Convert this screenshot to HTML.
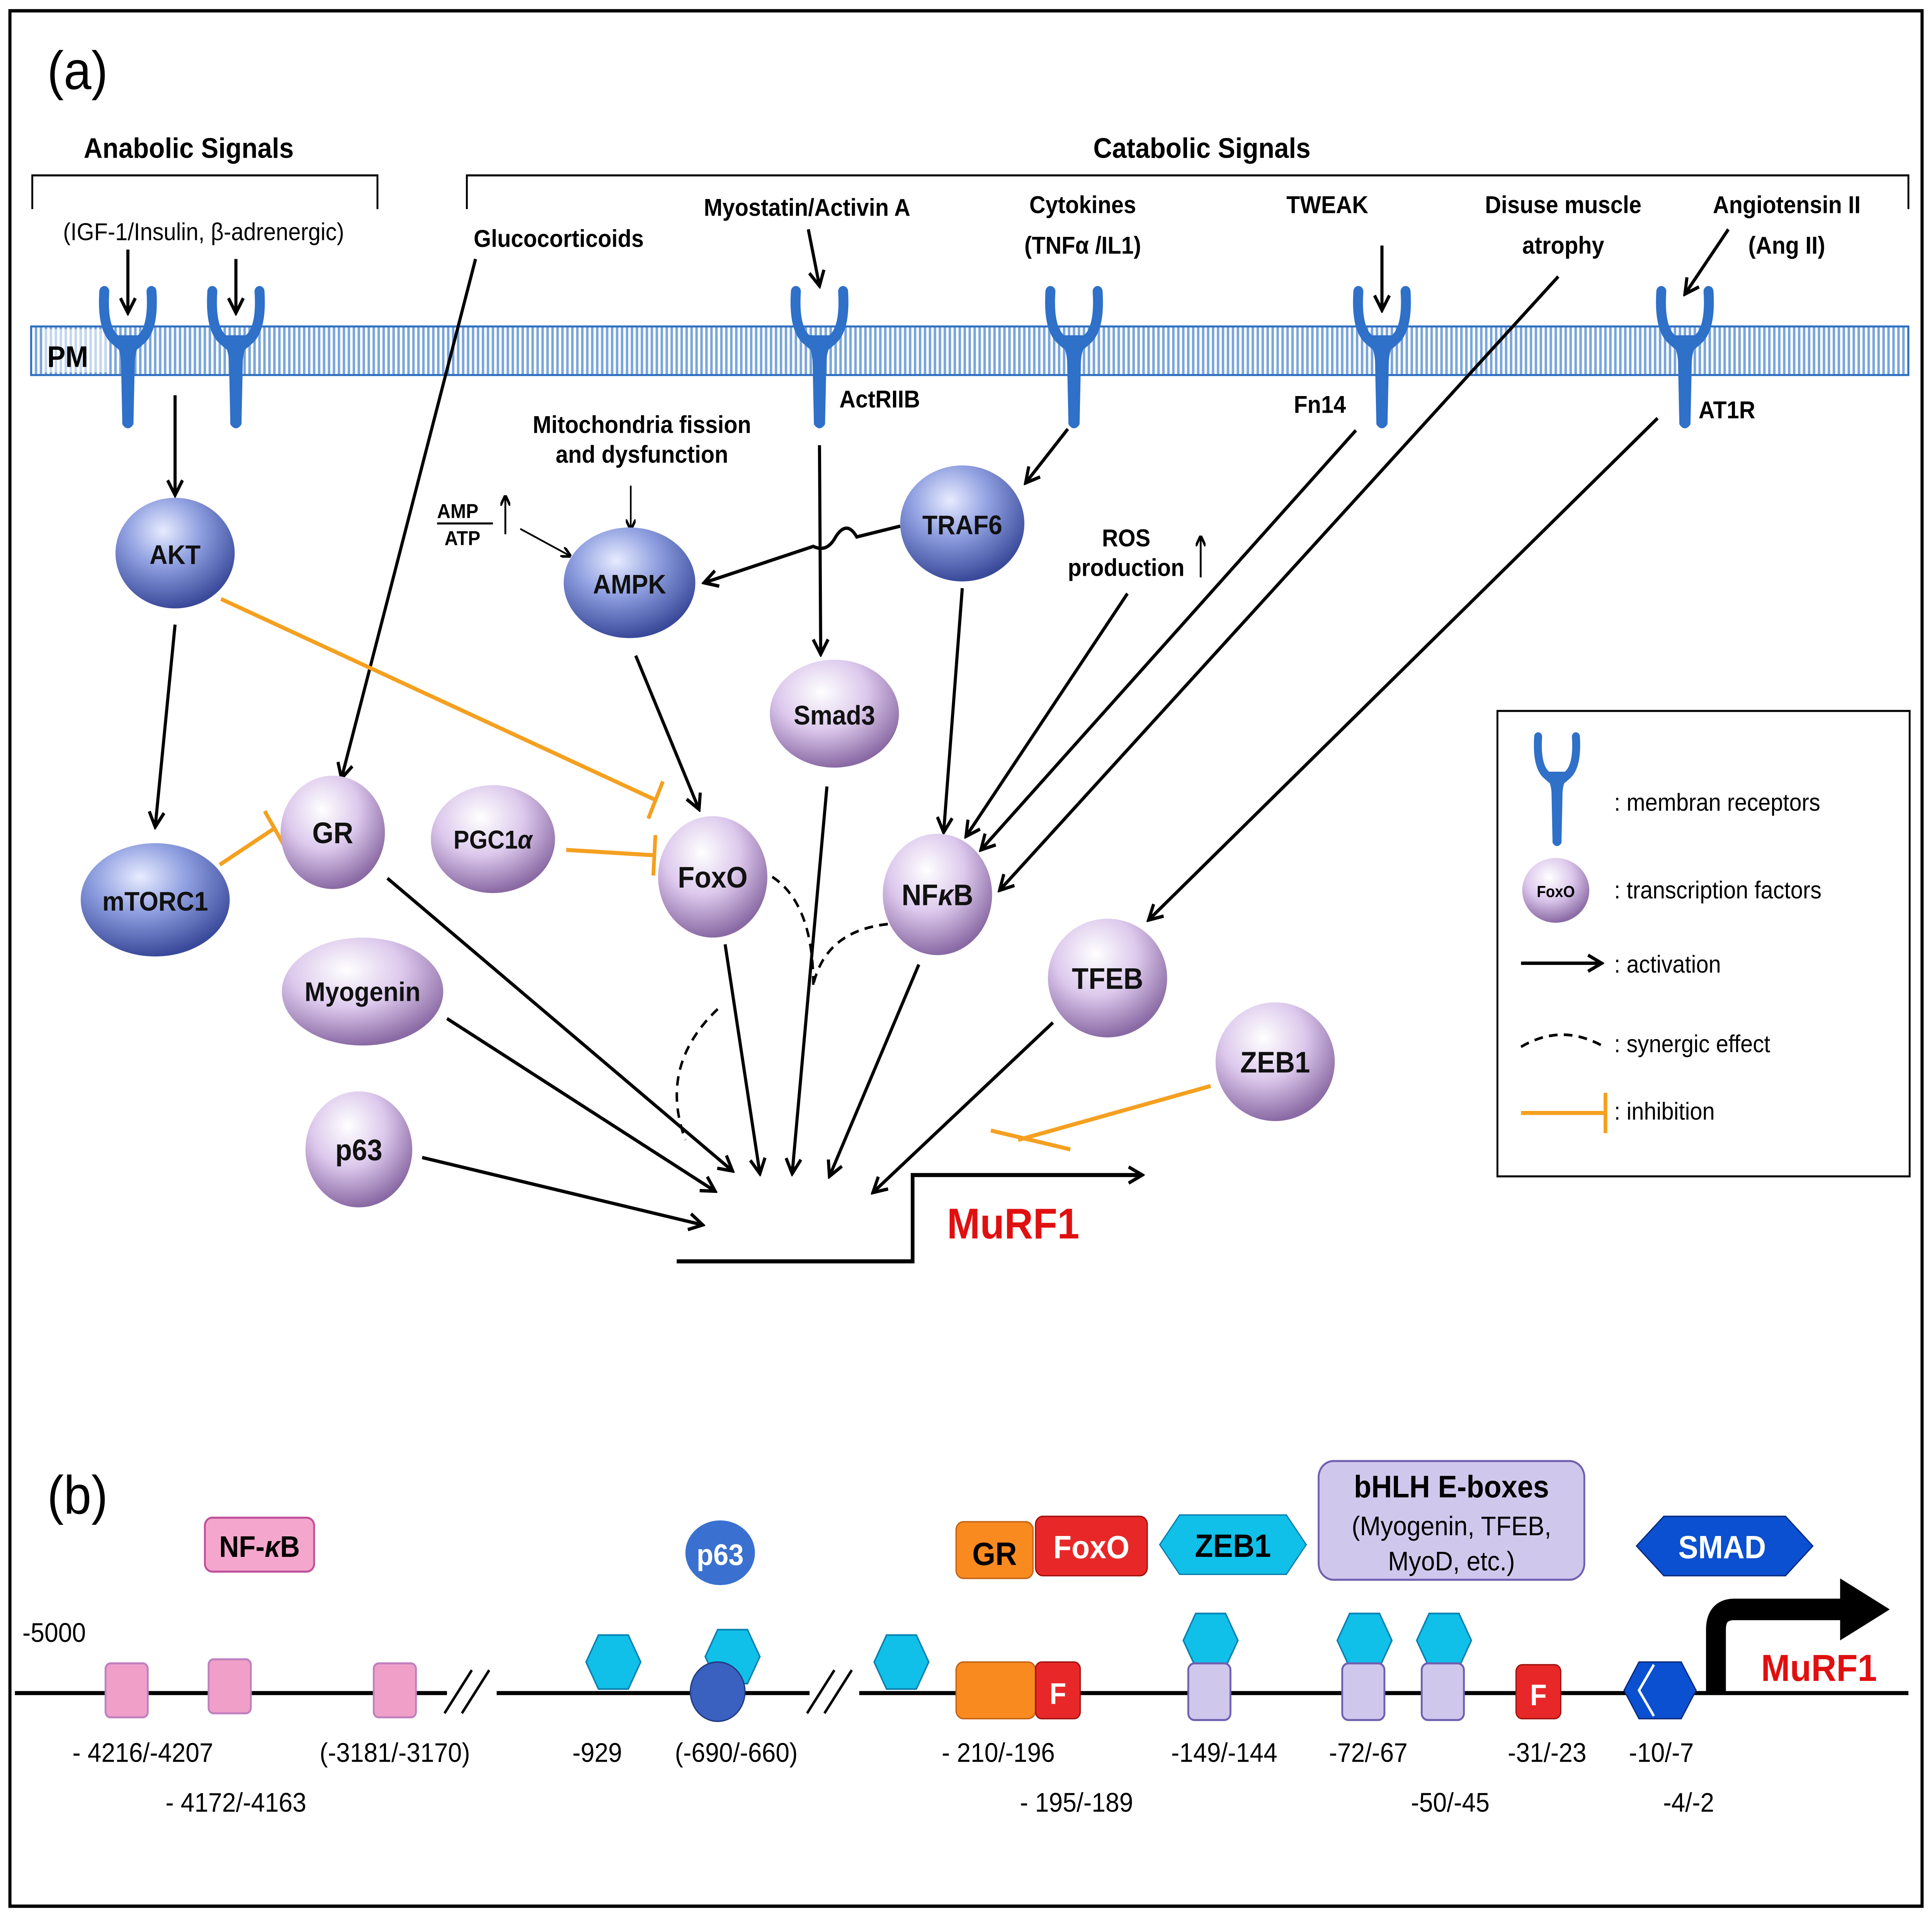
<!DOCTYPE html>
<html><head><meta charset="utf-8">
<style>
html,body{margin:0;padding:0;background:#fff;overflow:hidden;}
svg{display:block;width:100vw;height:100vh;}
text{font-family:"Liberation Sans",sans-serif;}
</style></head><body>
<svg viewBox="0 0 1556 1421" preserveAspectRatio="none" xmlns="http://www.w3.org/2000/svg">
<defs>
<radialGradient id="gb" cx="40%" cy="30%" r="70%">
<stop offset="0" stop-color="#e8ecff"/><stop offset="0.45" stop-color="#8f9fe0"/><stop offset="1" stop-color="#3a4a9a"/></radialGradient>
<radialGradient id="gp" cx="40%" cy="30%" r="70%">
<stop offset="0" stop-color="#ffffff"/><stop offset="0.5" stop-color="#dcc8ec"/><stop offset="1" stop-color="#8a6aa4"/></radialGradient>
<pattern id="stripe" width="4" height="10" patternUnits="userSpaceOnUse">
<rect width="4" height="10" fill="#ffffff"/><rect width="2" height="10" fill="#7aa6dc"/></pattern>
<marker id="ar" markerWidth="8" markerHeight="8" refX="7" refY="4" orient="auto" markerUnits="userSpaceOnUse" viewBox="0 0 8 8">
<path d="M0,0 L8,4 L0,8" fill="none" stroke="#000" stroke-width="2"/></marker>
<marker id="arb" markerWidth="14" markerHeight="14" refX="12" refY="7" orient="auto" markerUnits="userSpaceOnUse">
<path d="M1,1 L12,7 L1,13" fill="none" stroke="#000" stroke-width="2.5"/></marker>
<marker id="inh" markerWidth="4" markerHeight="30" refX="2" refY="15" orient="auto" markerUnits="userSpaceOnUse">
<line x1="2" y1="0" x2="2" y2="30" stroke="#f5a020" stroke-width="3"/></marker>
<g id="rec">
<path d="M-19,-40 Q-21,-12 -10,-4 Q-3,2 0,2 Q3,2 10,-4 Q21,-12 19,-40" fill="none" stroke="#2f70c8" stroke-width="8" stroke-linecap="round"/>
<path d="M-11,-6 Q-4,2 -4,14 L-3,58 Q0,62 3,58 L4,14 Q4,2 11,-6 Z" fill="#2f70c8" stroke="#2f70c8" stroke-width="3" stroke-linejoin="round"/>
</g>
</defs>
<rect x="0" y="0" width="1556" height="1421" fill="#fff"/>
<rect x="8" y="8" width="1540" height="1405" fill="none" stroke="#000" stroke-width="2.5"/>

<text x="38" y="66" font-size="40">(a)</text>
<text x="38" y="1122" font-size="40">(b)</text>

<text x="152" y="117" font-size="21" font-weight="bold" text-anchor="middle">Anabolic Signals</text>
<path d="M26,155 V130 H304 V155" fill="none" stroke="#000" stroke-width="1.5"/>
<text x="164" y="178" font-size="18" text-anchor="middle">(IGF-1/Insulin, β-adrenergic)</text>
<text x="968" y="117" font-size="21" font-weight="bold" text-anchor="middle">Catabolic Signals</text>
<path d="M376,155 V130 H1537 V155" fill="none" stroke="#000" stroke-width="1.5"/>
<g font-size="18" font-weight="bold" text-anchor="middle">
<text x="450" y="183">Glucocorticoids</text>
<text x="650" y="160">Myostatin/Activin A</text>
<text x="872" y="158">Cytokines</text><text x="872" y="188">(TNFα /IL1)</text>
<text x="1069" y="158">TWEAK</text>
<text x="1259" y="158">Disuse muscle</text><text x="1259" y="188">atrophy</text>
<text x="1439" y="158">Angiotensin II</text><text x="1439" y="188">(Ang II)</text>
</g>

<rect x="25" y="242" width="1512" height="36" fill="url(#stripe)" stroke="#2f6fc0" stroke-width="1.5"/>
<rect x="36" y="244" width="50" height="32" fill="#fff" opacity="0.55"/>
<text x="38" y="272" font-size="22" font-weight="bold">PM</text>
<use href="#rec" x="103" y="256"/>
<use href="#rec" x="190" y="256"/>
<use href="#rec" x="660" y="256"/>
<use href="#rec" x="865" y="256"/>
<use href="#rec" x="1113" y="256"/>
<use href="#rec" x="1357" y="256"/>
<g font-size="18" font-weight="bold">
<text x="676" y="302">ActRIIB</text>
<text x="1042" y="306">Fn14</text>
<text x="1368" y="310">AT1R</text>
<text x="517" y="321" text-anchor="middle">Mitochondria fission</text>
<text x="517" y="343" text-anchor="middle">and dysfunction</text>
<text x="907" y="405" text-anchor="middle">ROS</text>
<text x="907" y="427" text-anchor="middle">production</text>
<text x="352" y="384" font-size="15">AMP</text>
<text x="358" y="404" font-size="15">ATP</text>
</g>
<line x1="352" y1="388" x2="397" y2="388" stroke="#000" stroke-width="1.5"/>
<line x1="407" y1="396" x2="407" y2="368" stroke="#000" stroke-width="1.5" marker-end="url(#ar)"/>
<line x1="967" y1="428" x2="967" y2="398" stroke="#000" stroke-width="1.5" marker-end="url(#ar)"/>

<g stroke="#000" stroke-width="2.5" fill="none" marker-end="url(#arb)">
<line x1="103" y1="185" x2="103" y2="232"/>
<line x1="190" y1="192" x2="190" y2="232"/>
<line x1="651" y1="170" x2="660" y2="212"/>
<line x1="1113" y1="182" x2="1113" y2="230"/>
<line x1="1392" y1="170" x2="1357" y2="218"/>
<line x1="141" y1="293" x2="141" y2="367"/>
<line x1="141" y1="463" x2="125" y2="613"/>
<line x1="383" y1="192" x2="275" y2="577"/>
<line x1="660" y1="330" x2="661" y2="485"/>
<line x1="860" y1="318" x2="826" y2="358"/>
<path d="M725,390 L690,398 Q682,385 673,398 Q666,410 655,405 L567,432"/>
<line x1="512" y1="486" x2="563" y2="600"/>
<line x1="775" y1="436" x2="760" y2="617"/>
<line x1="908" y1="440" x2="778" y2="620"/>
<line x1="1092" y1="319" x2="790" y2="630"/>
<line x1="1255" y1="205" x2="805" y2="660"/>
<line x1="1335" y1="310" x2="925" y2="682"/>
<line x1="312" y1="651" x2="590" y2="868"/>
<line x1="360" y1="755" x2="576" y2="883"/>
<line x1="340" y1="858" x2="566" y2="908"/>
<line x1="584" y1="700" x2="612" y2="870"/>
<line x1="666" y1="583" x2="638" y2="870"/>
<line x1="740" y1="715" x2="668" y2="872"/>
<line x1="848" y1="758" x2="703" y2="884"/>
</g>
<line x1="419" y1="392" x2="459" y2="412" stroke="#000" stroke-width="1.3" marker-end="url(#ar)"/>
<line x1="508" y1="360" x2="508" y2="392" stroke="#000" stroke-width="1.3" marker-end="url(#ar)"/>

<path d="M545,935 H735 V871 H920" fill="none" stroke="#000" stroke-width="3" marker-end="url(#arb)"/>
<text x="816" y="918" font-size="32" font-weight="bold" fill="#e01010" text-anchor="middle">MuRF1</text>

<g stroke="#000" stroke-width="2" fill="none" stroke-dasharray="7,5">
<path d="M622,650 Q655,670 655,730"/>
<path d="M715,685 Q665,690 655,730"/>
<path d="M578,748 Q530,790 552,845"/>
</g>

<g stroke="#f5a020" stroke-width="3" fill="none" marker-end="url(#inh)">
<line x1="178" y1="444" x2="528" y2="593"/>
<line x1="177" y1="641" x2="221" y2="614"/>
<line x1="456" y1="630" x2="527" y2="634"/>
</g>
<line x1="975" y1="805" x2="820" y2="845" stroke="#f5a020" stroke-width="3"/>
<line x1="798" y1="838" x2="862" y2="852" stroke="#f5a020" stroke-width="3"/>

<g font-size="22" font-weight="bold" text-anchor="middle" fill="#111">
<ellipse cx="141" cy="410" rx="48" ry="41" fill="url(#gb)"/><text x="141" y="418" font-size="20">AKT</text>
<ellipse cx="125" cy="667" rx="60" ry="42" fill="url(#gb)"/><text x="125" y="675" font-size="20">mTORC1</text>
<ellipse cx="507" cy="432" rx="53" ry="41" fill="url(#gb)"/><text x="507" y="440" font-size="20">AMPK</text>
<ellipse cx="775" cy="388" rx="50" ry="43" fill="url(#gb)"/><text x="775" y="396" font-size="20">TRAF6</text>
<ellipse cx="268" cy="617" rx="42" ry="42" fill="url(#gp)"/><text x="268" y="625">GR</text>
<ellipse cx="672" cy="529" rx="52" ry="40" fill="url(#gp)"/><text x="672" y="537" font-size="20">Smad3</text>
<ellipse cx="397" cy="622" rx="50" ry="40" fill="url(#gp)"/><text x="397" y="629" font-size="19">PGC1<tspan font-style="italic">α</tspan></text>
<ellipse cx="574" cy="650" rx="44" ry="45" fill="url(#gp)"/><text x="574" y="658">FoxO</text>
<ellipse cx="755" cy="663" rx="44" ry="45" fill="url(#gp)"/><text x="755" y="671">NF<tspan font-style="italic">κ</tspan>B</text>
<ellipse cx="292" cy="735" rx="65" ry="40" fill="url(#gp)"/><text x="292" y="742" font-size="20">Myogenin</text>
<ellipse cx="289" cy="852" rx="43" ry="43" fill="url(#gp)"/><text x="289" y="860">p63</text>
<ellipse cx="892" cy="725" rx="48" ry="44" fill="url(#gp)"/><text x="892" y="733">TFEB</text>
<ellipse cx="1027" cy="787" rx="48" ry="44" fill="url(#gp)"/><text x="1027" y="795">ZEB1</text>
</g>

<rect x="1206" y="527" width="332" height="345" fill="#fff" stroke="#000" stroke-width="1.5"/>
<use href="#rec" transform="translate(1254,578) scale(0.8)"/>
<g font-size="18">
<text x="1300" y="601">: membran receptors</text>
<text x="1300" y="666">: transcription factors</text>
<text x="1300" y="721">: activation</text>
<text x="1300" y="780">: synergic effect</text>
<text x="1300" y="830">: inhibition</text>
</g>
<ellipse cx="1253" cy="660" rx="27" ry="24" fill="url(#gp)"/>
<text x="1253" y="665" font-size="12" font-weight="bold" text-anchor="middle">FoxO</text>
<line x1="1225" y1="714" x2="1290" y2="714" stroke="#000" stroke-width="2.5" marker-end="url(#arb)"/>
<path d="M1225,776 Q1258,758 1292,776" fill="none" stroke="#000" stroke-width="2" stroke-dasharray="7,5"/>
<line x1="1225" y1="825" x2="1293" y2="825" stroke="#f5a020" stroke-width="3" marker-end="url(#inh)"/>

<!-- Part b -->
<line x1="12" y1="1255" x2="1537" y2="1255" stroke="#000" stroke-width="3"/>
<rect x="360" y="1236" width="40" height="40" fill="#fff"/>
<rect x="652" y="1236" width="40" height="40" fill="#fff"/>
<g stroke="#000" stroke-width="2"><line x1="358" y1="1270" x2="380" y2="1238"/><line x1="372" y1="1270" x2="394" y2="1238"/>
<line x1="650" y1="1270" x2="672" y2="1238"/><line x1="664" y1="1270" x2="686" y2="1238"/></g>
<text x="18" y="1217" font-size="20">-5000</text>

<g fill="#f0a0c8" stroke="#c080c0" stroke-width="1.5">
<rect x="85" y="1233" width="34" height="40" rx="4"/>
<rect x="168" y="1230" width="34" height="40" rx="4"/>
<rect x="301" y="1233" width="34" height="40" rx="4"/>
</g>
<rect x="165" y="1125" width="88" height="40" rx="6" fill="#f4a6cc" stroke="#c0509a" stroke-width="1.5"/>
<text x="209" y="1154" font-size="22" font-weight="bold" text-anchor="middle">NF-<tspan font-style="italic">κ</tspan>B</text>

<g fill="#10c0e8" stroke="#0a80b0" stroke-width="1.2">
<polygon points="472,1232 482,1212 506,1212 516,1232 506,1252 482,1252"/>
<polygon points="568,1228 578,1208 602,1208 612,1228 602,1248 578,1248"/>
<polygon points="704,1232 714,1212 738,1212 748,1232 738,1252 714,1252"/>
<polygon points="953,1216 963,1196 987,1196 997,1216 987,1236 963,1236"/>
<polygon points="1077,1216 1087,1196 1111,1196 1121,1216 1111,1236 1087,1236"/>
<polygon points="1141,1216 1151,1196 1175,1196 1185,1216 1175,1236 1151,1236"/>
</g>
<circle cx="578" cy="1254" r="22" fill="#3a60c0" stroke="#203a80"/>
<ellipse cx="580" cy="1151" rx="28" ry="24" fill="#3a70d0"/>
<text x="580" y="1160" font-size="22" font-weight="bold" fill="#fff" text-anchor="middle">p63</text>

<rect x="770" y="1232" width="64" height="42" rx="6" fill="#f88a20" stroke="#c06010"/>
<rect x="834" y="1232" width="36" height="42" rx="5" fill="#e82828" stroke="#a01010"/>
<text x="852" y="1263" font-size="22" font-weight="bold" fill="#fff" text-anchor="middle">F</text>
<rect x="770" y="1128" width="62" height="42" rx="6" fill="#f88a20" stroke="#c06010"/>
<text x="801" y="1160" font-size="24" font-weight="bold" text-anchor="middle">GR</text>
<rect x="834" y="1124" width="90" height="44" rx="6" fill="#e82828" stroke="#a01010"/>
<text x="879" y="1155" font-size="24" font-weight="bold" fill="#fff" text-anchor="middle">FoxO</text>
<polygon points="934,1145 950,1123 1036,1123 1052,1145 1036,1167 950,1167" fill="#10c0e8" stroke="#0a80b0"/>
<text x="993" y="1154" font-size="24" font-weight="bold" text-anchor="middle">ZEB1</text>

<g fill="#d0c8ec" stroke="#7060b0" stroke-width="1.5">
<rect x="957" y="1233" width="34" height="42" rx="5"/>
<rect x="1081" y="1233" width="34" height="42" rx="5"/>
<rect x="1145" y="1233" width="34" height="42" rx="5"/>
</g>
<rect x="1062" y="1083" width="214" height="88" rx="12" fill="#d0c8ec" stroke="#7060b0" stroke-width="1.5"/>
<text x="1169" y="1110" font-size="23" font-weight="bold" text-anchor="middle">bHLH E-boxes</text>
<text x="1169" y="1138" font-size="20" text-anchor="middle">(Myogenin, TFEB,</text>
<text x="1169" y="1164" font-size="20" text-anchor="middle">MyoD, etc.)</text>

<rect x="1221" y="1234" width="36" height="40" rx="5" fill="#e82828" stroke="#a01010"/>
<text x="1239" y="1264" font-size="22" font-weight="bold" fill="#fff" text-anchor="middle">F</text>

<polygon points="1308,1253 1320,1232 1354,1232 1366,1253 1354,1274 1320,1274" fill="#0a50d0" stroke="#0a2a80"/>
<polyline points="1332,1234 1320,1253 1332,1272" fill="none" stroke="#fff" stroke-width="2"/>
<polygon points="1318,1146 1340,1124 1438,1124 1460,1146 1438,1168 1340,1168" fill="#0a50d0" stroke="#0a2a80"/>
<text x="1387" y="1155" font-size="24" font-weight="bold" fill="#fff" text-anchor="middle">SMAD</text>

<path d="M1382,1255 V1208 Q1382,1193 1397,1193 H1485" fill="none" stroke="#000" stroke-width="16"/>
<polygon points="1482,1170 1522,1193 1482,1216" fill="#000"/>
<text x="1465" y="1246" font-size="28" font-weight="bold" fill="#e01010" text-anchor="middle">MuRF1</text>

<g font-size="20" text-anchor="middle">
<text x="115" y="1306">- 4216/-4207</text>
<text x="190" y="1343">- 4172/-4163</text>
<text x="318" y="1306">(-3181/-3170)</text>
<text x="481" y="1306">-929</text>
<text x="593" y="1306">(-690/-660)</text>
<text x="804" y="1306">- 210/-196</text>
<text x="867" y="1343">- 195/-189</text>
<text x="986" y="1306">-149/-144</text>
<text x="1102" y="1306">-72/-67</text>
<text x="1168" y="1343">-50/-45</text>
<text x="1246" y="1306">-31/-23</text>
<text x="1338" y="1306">-10/-7</text>
<text x="1360" y="1343">-4/-2</text>
</g>
</svg>
</body></html>
